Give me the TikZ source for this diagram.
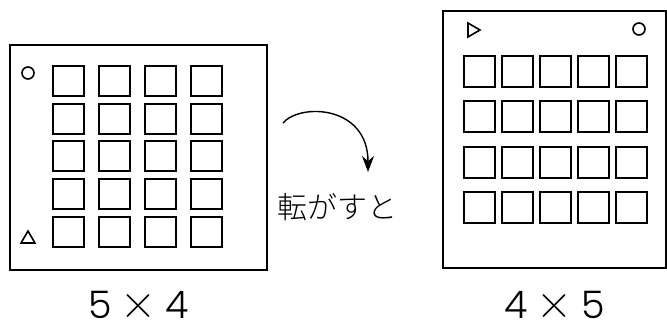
\documentclass[tikz,border=0pt]{standalone}
\usepackage{fontspec}
\newfontfamily\sizefont{Poppins Light}
\newfontfamily\jpfont{Noto Sans CJK JP Light}
\usetikzlibrary{positioning,arrows.meta,shapes.geometric}

\tikzset{
	board/.style={draw,line width=2pt,rectangle,inner sep=0},
	pad/.style={draw,line width=2pt,rectangle,minimum width=31pt,inner sep=0},
	pinround/.style={draw,circle,line width=1.6pt,minimum size=12pt,inner sep=0},
	pintri/.style={draw,regular polygon,regular polygon sides=3,line width=1.6pt,minimum size=16pt,inner sep=0},
	turn/.style={line width=1.4pt,-{Stealth[length=16pt,width=12pt]}},
	sizelabel/.style={font=\sizefont\fontsize{38}{38}\selectfont,inner sep=0,text depth=0pt}
}
\newcommand{\bytimes}{\hspace{9pt}{\rmfamily\fontsize{50}{50}\selectfont ×}\hspace{9pt}}

\begin{document}
\begin{tikzpicture}[x=1pt,y=-1pt]
	\useasboundingbox (0,0) rectangle (667,328);
	% boards
	\node[board,minimum width=257pt,minimum height=225pt] (boardL) at (138.5,157.5) {};
	\node[board,minimum width=223pt,minimum height=257pt] (boardR) at (554.5,139.5) {};
	% pads
	\foreach \c in {0,...,3}
		\foreach \r in {0,...,4}
			\node[pad,minimum height=30pt] (padL-\r-\c) at (68.5+46*\c,81+37.75*\r) {};
	\foreach \c in {0,...,4}
		\foreach \r in {0,...,3}
			\node[pad,minimum height=31pt] (padR-\r-\c) at (479.5+38*\c,71.5+45.3*\r) {};
	% corner marks
	\node[pinround] (dotL) at (28,73) {};
	\node[pintri] (triL) at (28,239) {};
	\node[pinround] (dotR) at (639,29) {};
	\node[pintri,shape border rotate=-90] (triR) at (472,30) {};
	% rotation
	\coordinate (turnA) at (283,123);
	\coordinate (turnB) at (368,172);
		\draw[turn] (turnA) .. controls (300,103) and (368,105) .. (turnB);
	\node[font=\jpfont\fontsize{30}{30}\selectfont] (rollText) at (337.5,207) {転がすと};
	% sizes
	\node[sizelabel] (sizeL) at (138.5,305) {5\bytimes4};
	\node[sizelabel] (sizeR) at (554.5,305) {4\bytimes5};
\end{tikzpicture}
\end{document}
